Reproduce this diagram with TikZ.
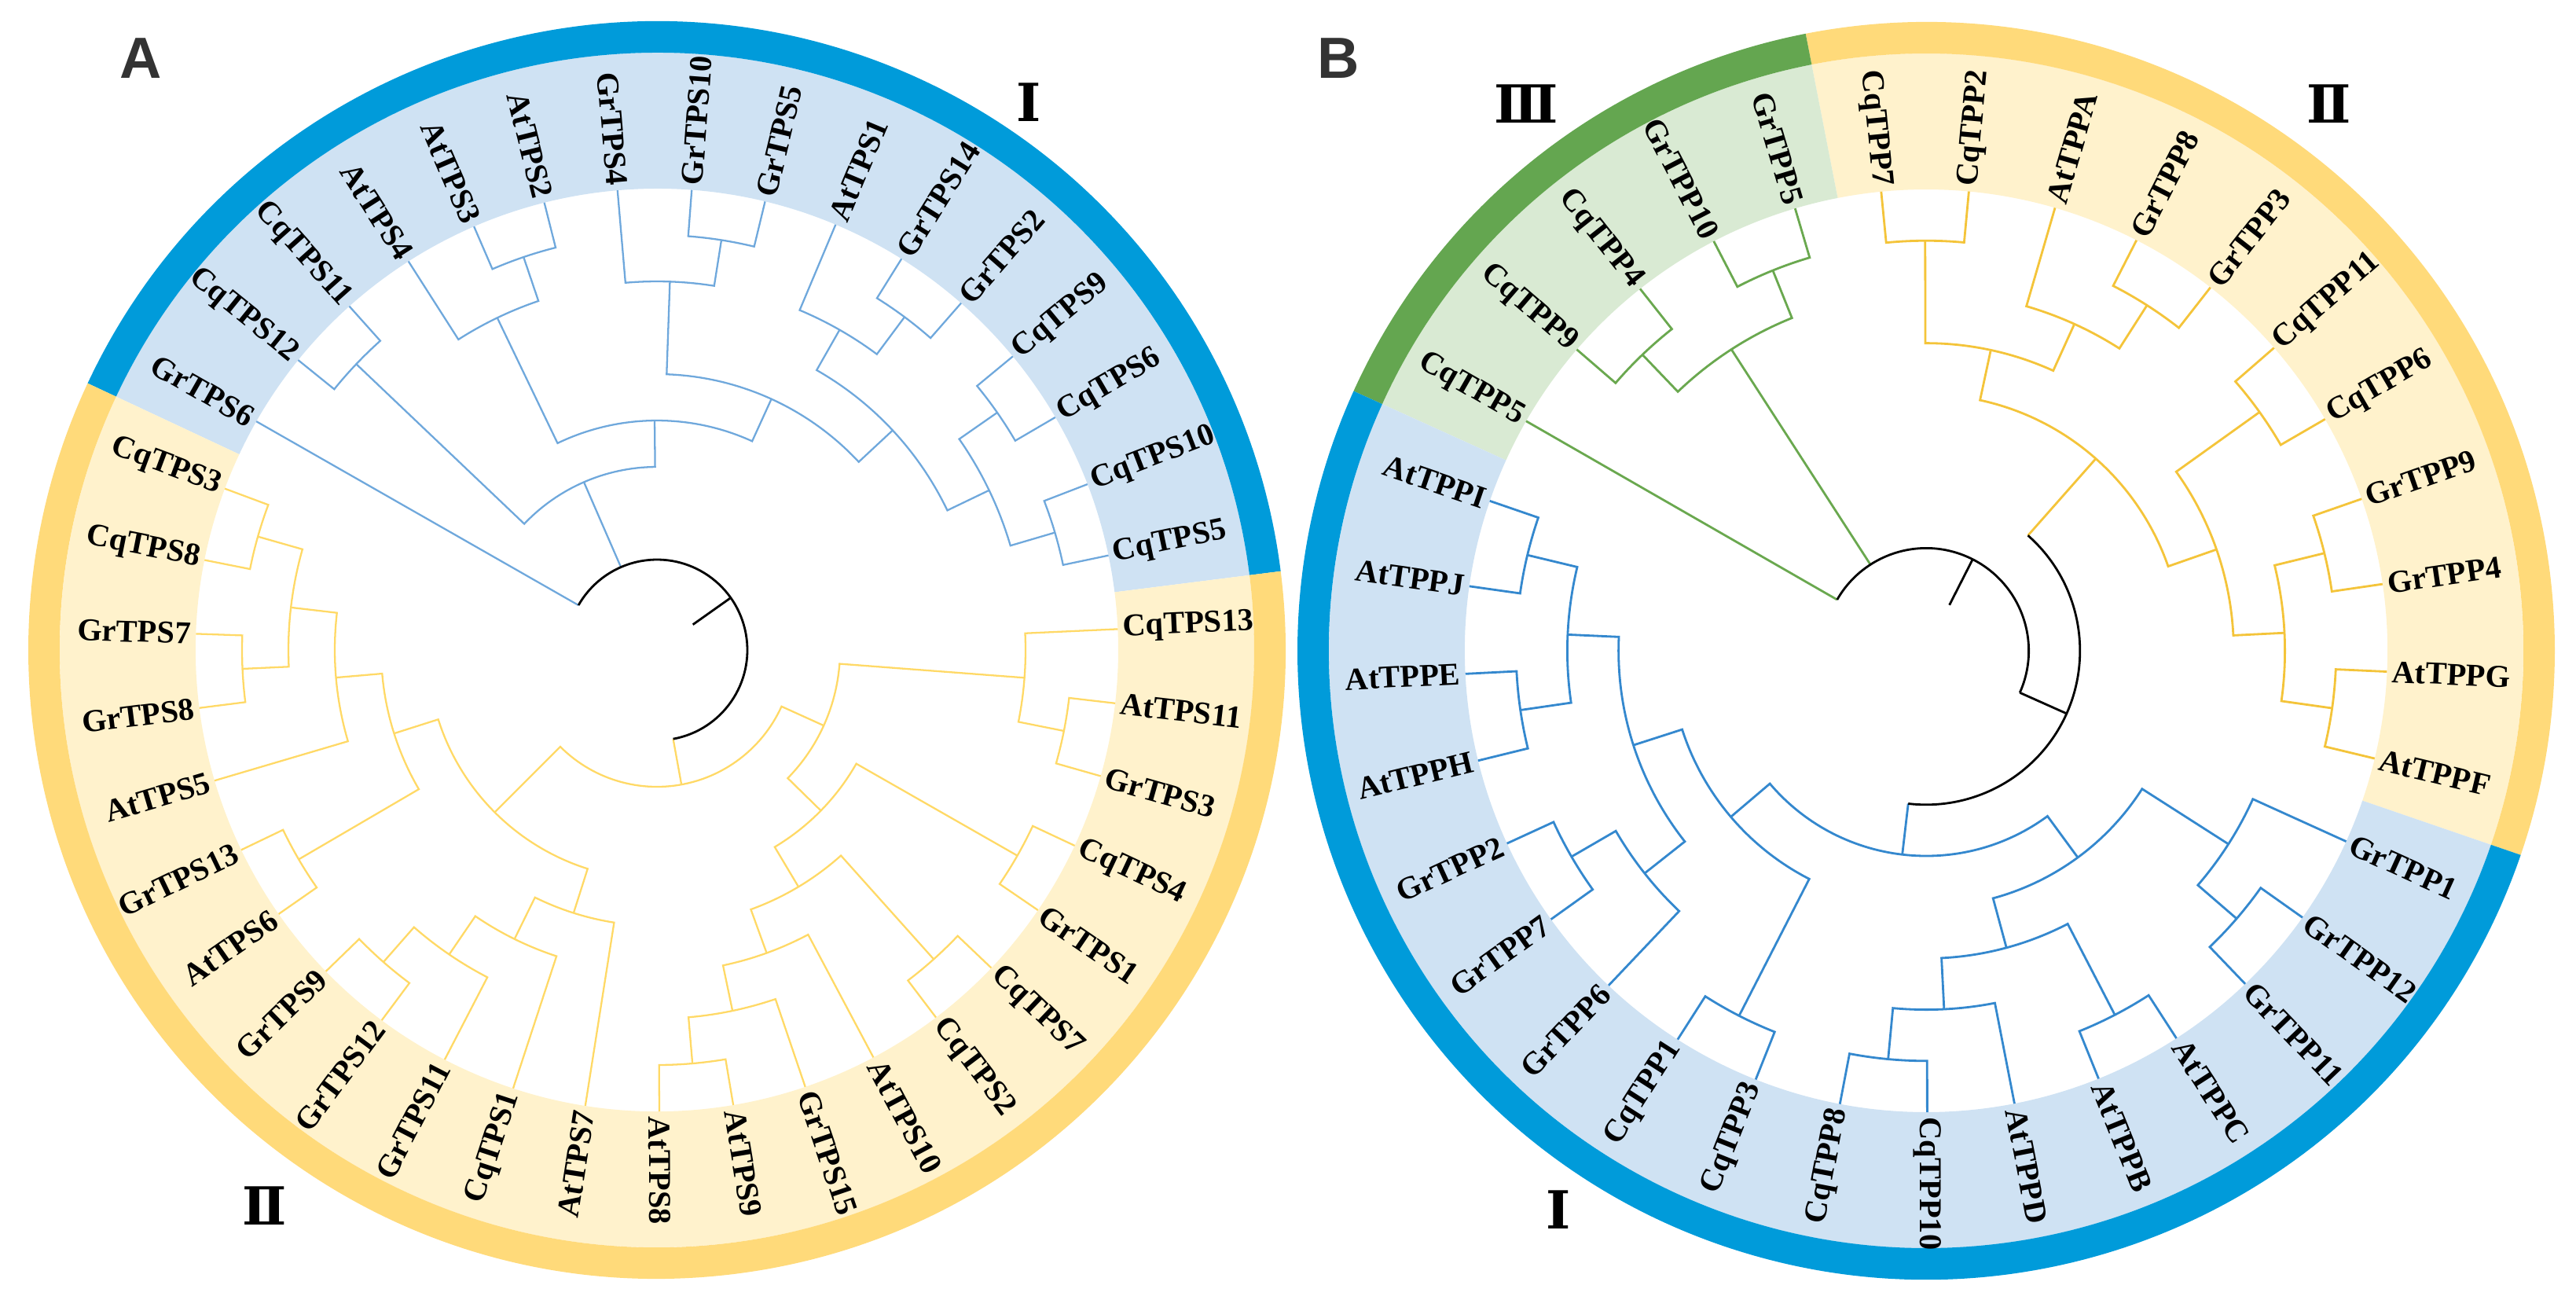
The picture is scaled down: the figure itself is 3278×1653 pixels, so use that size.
\documentclass[tikz,border=0pt]{standalone}
\usepackage{fontspec}
\setmainfont{Liberation Serif}
\newfontfamily\numfont{DejaVu Serif}
\newfontfamily\panelfont{Liberation Sans}
\definecolor{ringblue}{RGB}{0,155,218}
\definecolor{bandblue}{RGB}{207,226,243}
\definecolor{ringyellow}{RGB}{255,218,122}
\definecolor{bandyellow}{RGB}{255,242,204}
\definecolor{ringgreen}{RGB}{100,166,80}
\definecolor{bandgreen}{RGB}{217,234,211}
\definecolor{lineblueA}{RGB}{111,168,220}
\definecolor{lineyellowA}{RGB}{255,217,102}
\definecolor{lineblueB}{RGB}{52,136,206}
\definecolor{lineyellowB}{RGB}{244,196,58}
\definecolor{linegreen}{RGB}{106,168,79}
\definecolor{panelgray}{RGB}{51,51,51}
\newcommand\clade[6]{%
  \pgfmathsetmacro\cladeR{\leafr-#6*\cladestep}%
  \pgfmathsetmacro\cladeM{(#4+#5)/2}%
  \draw (#2) -- (#4:\cladeR) arc[start angle=#4, end angle=#5, radius=\cladeR] -- (#3);
  \coordinate (#1) at (\cladeM:\cladeR);}
\begin{document}
\begin{tikzpicture}[x=0.01cm,y=0.01cm,
  gene/.style={inner sep=0pt, font=\fontsize{11.5}{13}\selectfont\bfseries},
  clade num/.style={font=\numfont\bfseries\fontsize{19}{20}\selectfont},
  panel/.style={font=\panelfont\bfseries\fontsize{21}{24}\selectfont, text=panelgray}]
\useasboundingbox (0,0) rectangle (3278,-1653);
\node[panel] (pA) at (179,-74) {A};
\node[panel] (pB) at (1703,-74) {B};
\node[clade num] (nAI) at (1309,-130) {Ⅰ};
\node[clade num] (nAII) at (337,-1534) {Ⅱ};
\node[clade num] (nBIII) at (1942,-132) {Ⅲ};
\node[clade num] (nBII) at (2964,-132) {Ⅱ};
\node[clade num] (nBI) at (1983,-1539) {Ⅰ};
\begin{scope}[shift={(836,-827)}]
\def\leafr{587}\def\cladestep{59}
\foreach \p/\q/\c/\d in {7.2/154.9/bandblue/ringblue,154.9/367.2/bandyellow/ringyellow}{
  \fill[\c] (\p:587) arc[start angle=\p, end angle=\q, radius=587] -- (\q:760) arc[start angle=\q, end angle=\p, radius=760] -- cycle;
  \fill[\d] (\p:760) arc[start angle=\p, end angle=\q, radius=760] -- (\q:800) arc[start angle=\q, end angle=\p, radius=800] -- cycle;
}
\foreach \idx/\gene in {0/CqTPS13,1/CqTPS5,2/CqTPS10,3/CqTPS6,4/CqTPS9,5/GrTPS2,6/GrTPS14,7/AtTPS1,8/GrTPS5,9/GrTPS10,29/AtTPS8,30/AtTPS9,31/GrTPS15,32/AtTPS10,33/CqTPS2,34/CqTPS7,35/GrTPS1,36/CqTPS4,37/GrTPS3,38/AtTPS11}{
  \pgfmathsetmacro\ang{2.6+\idx*360/39}
  \coordinate (\gene) at (\ang:587);
  \node[gene, anchor=west, rotate=\ang] (l\gene) at (\ang:593) {\gene};
}
\foreach \idx/\gene in {10/GrTPS4,11/AtTPS2,12/AtTPS3,13/AtTPS4,14/CqTPS11,15/CqTPS12,16/GrTPS6,17/CqTPS3,18/CqTPS8,19/GrTPS7,20/GrTPS8,21/AtTPS5,22/GrTPS13,23/AtTPS6,24/GrTPS9,25/GrTPS12,26/GrTPS11,27/CqTPS1,28/AtTPS7}{
  \pgfmathsetmacro\ang{2.6+\idx*360/39}
  \pgfmathsetmacro\rot{\ang-180}
  \coordinate (\gene) at (\ang:587);
  \node[gene, anchor=east, rotate=\rot] (l\gene) at (\ang:593) {\gene};
}
\begin{scope}[color=lineblueA, line width=0.65pt]
\clade{tA1}{CqTPS5}{CqTPS10}{11.83}{21.06}{1}
\clade{tA2}{CqTPS6}{CqTPS9}{30.29}{39.52}{1}
\clade{tA3}{tA1}{tA2}{16.45}{34.91}{2}
\clade{tA4}{GrTPS2}{GrTPS14}{48.75}{57.98}{1}
\clade{tA5}{tA4}{AtTPS1}{53.37}{67.22}{2}
\clade{tA6}{tA3}{tA5}{25.68}{60.29}{3}
\clade{tA7}{GrTPS5}{GrTPS10}{76.45}{85.68}{1}
\clade{tA8}{tA7}{GrTPS4}{81.07}{94.91}{2}
\clade{tA9}{tA6}{tA8}{42.99}{87.99}{4}
\clade{tA10}{AtTPS2}{AtTPS3}{104.14}{113.37}{1}
\clade{tA11}{tA10}{AtTPS4}{108.76}{122.60}{2}
\clade{tA12}{tA9}{tA11}{65.49}{115.68}{5}
\clade{tA13}{CqTPS11}{CqTPS12}{131.83}{141.06}{1}
\clade{tA14}{tA12}{tA13}{90.59}{136.45}{6}
\draw (GrTPS6) -- (150.29:115);
\draw (tA14) -- (113.52:115);
\end{scope}
\begin{scope}[color=lineyellowA, line width=0.65pt]
\clade{tA15}{CqTPS3}{CqTPS8}{159.52}{168.75}{1}
\clade{tA16}{GrTPS7}{GrTPS8}{177.98}{187.22}{1}
\clade{tA17}{tA15}{tA16}{164.14}{182.60}{2}
\clade{tA18}{tA17}{AtTPS5}{173.37}{196.45}{3}
\clade{tA19}{GrTPS13}{AtTPS6}{205.68}{214.91}{1}
\clade{tA20}{tA18}{tA19}{184.91}{210.30}{4}
\clade{tA21}{GrTPS9}{GrTPS12}{224.14}{233.37}{1}
\clade{tA22}{tA21}{GrTPS11}{228.76}{242.60}{2}
\clade{tA23}{tA22}{CqTPS1}{235.68}{251.83}{3}
\clade{tA24}{tA23}{AtTPS7}{243.75}{261.06}{4}
\clade{tA25}{tA20}{tA24}{197.60}{252.41}{5}
\clade{tA26}{AtTPS8}{AtTPS9}{270.29}{279.52}{1}
\clade{tA27}{tA26}{GrTPS15}{274.91}{288.75}{2}
\clade{tA28}{tA27}{AtTPS10}{281.83}{297.98}{3}
\clade{tA29}{CqTPS2}{CqTPS7}{307.22}{316.45}{1}
\clade{tA30}{tA28}{tA29}{289.90}{311.83}{4}
\clade{tA31}{GrTPS1}{CqTPS4}{325.68}{334.91}{1}
\clade{tA32}{tA30}{tA31}{300.87}{330.30}{5}
\clade{tA33}{GrTPS3}{AtTPS11}{344.14}{353.37}{1}
\clade{tA34}{tA33}{CqTPS13}{348.76}{362.60}{2}
\clade{tA35}{tA32}{tA34}{315.58}{355.68}{6}
\clade{tA36}{tA25}{tA35}{225.00}{335.63}{7}
\draw (tA36) -- (280.32:115);
\end{scope}
\coordinate (tA37) at (35.3:115);
\coordinate (tA0) at (35.3:56);
\draw[line width=0.8pt] (-79.68:115) arc[start angle=-79.68, end angle=150.29, radius=115];
\draw[line width=0.8pt] (tA37) -- (tA0);
\end{scope}
\begin{scope}[shift={(2451,-828)}]
\def\leafr{587}\def\cladestep{65.2}
\foreach \p/\q/\c/\d in {-18.95/101.05/bandyellow/ringyellow,101.05/155.6/bandgreen/ringgreen,155.6/341.05/bandblue/ringblue}{
  \fill[\c] (\p:587) arc[start angle=\p, end angle=\q, radius=587] -- (\q:760) arc[start angle=\q, end angle=\p, radius=760] -- cycle;
  \fill[\d] (\p:760) arc[start angle=\p, end angle=\q, radius=760] -- (\q:800) arc[start angle=\q, end angle=\p, radius=800] -- cycle;
}
\foreach \idx/\gene in {0/AtTPPF,1/AtTPPG,2/GrTPP4,3/GrTPP9,4/CqTPP6,5/CqTPP11,6/GrTPP3,7/GrTPP8,8/AtTPPA,9/CqTPP2,26/CqTPP10,27/AtTPPD,28/AtTPPB,29/AtTPPC,30/GrTPP11,31/GrTPP12,32/GrTPP1}{
  \pgfmathsetmacro\ang{-13.5+\idx*360/33}
  \coordinate (\gene) at (\ang:587);
  \node[gene, anchor=west, rotate=\ang] (l\gene) at (\ang:593) {\gene};
}
\foreach \idx/\gene in {10/CqTPP7,11/GrTPP5,12/GrTPP10,13/CqTPP4,14/CqTPP9,15/CqTPP5,16/AtTPPI,17/AtTPPJ,18/AtTPPE,19/AtTPPH,20/GrTPP2,21/GrTPP7,22/GrTPP6,23/CqTPP1,24/CqTPP3,25/CqTPP8}{
  \pgfmathsetmacro\ang{-13.5+\idx*360/33}
  \pgfmathsetmacro\rot{\ang-180}
  \coordinate (\gene) at (\ang:587);
  \node[gene, anchor=east, rotate=\rot] (l\gene) at (\ang:593) {\gene};
}
\begin{scope}[color=lineyellowB, line width=0.8pt]
\clade{tB1}{AtTPPF}{AtTPPG}{-13.50}{-2.59}{1}
\clade{tB2}{GrTPP4}{GrTPP9}{8.32}{19.23}{1}
\clade{tB3}{tB1}{tB2}{-8.05}{13.78}{2}
\clade{tB4}{CqTPP6}{CqTPP11}{30.14}{41.05}{1}
\clade{tB5}{tB3}{tB4}{2.87}{35.60}{3}
\clade{tB6}{GrTPP3}{GrTPP8}{51.95}{62.86}{1}
\clade{tB7}{tB6}{AtTPPA}{57.41}{73.77}{2}
\clade{tB8}{CqTPP2}{CqTPP7}{84.68}{95.59}{1}
\clade{tB9}{tB7}{tB8}{65.59}{90.14}{3}
\clade{tB10}{tB5}{tB9}{19.23}{77.86}{4}
\draw (tB10) -- (48.55:195.8);
\end{scope}
\begin{scope}[color=linegreen, line width=0.8pt]
\clade{tB11}{GrTPP5}{GrTPP10}{106.50}{117.41}{1}
\clade{tB12}{CqTPP4}{CqTPP9}{128.32}{139.23}{1}
\clade{tB13}{tB11}{tB12}{111.96}{133.78}{2}
\draw (tB13) -- (122.87:130.6);
\draw (CqTPP5) -- (150.14:130.6);
\end{scope}
\begin{scope}[color=lineblueB, line width=0.8pt]
\clade{tB14}{AtTPPI}{AtTPPJ}{161.05}{171.95}{1}
\clade{tB15}{AtTPPE}{AtTPPH}{182.86}{193.77}{1}
\clade{tB16}{tB14}{tB15}{166.50}{188.32}{2}
\clade{tB17}{GrTPP2}{GrTPP7}{204.68}{215.59}{1}
\clade{tB18}{tB17}{GrTPP6}{210.14}{226.50}{2}
\clade{tB19}{tB16}{tB18}{177.41}{218.32}{3}
\clade{tB20}{CqTPP1}{CqTPP3}{237.41}{248.32}{1}
\clade{tB21}{tB19}{tB20}{197.87}{242.87}{4}
\clade{tB22}{CqTPP8}{CqTPP10}{259.23}{270.14}{1}
\clade{tB23}{tB22}{AtTPPD}{264.69}{281.05}{2}
\clade{tB24}{AtTPPB}{AtTPPC}{291.95}{302.86}{1}
\clade{tB25}{tB23}{tB24}{272.87}{297.41}{3}
\clade{tB26}{GrTPP11}{GrTPP12}{313.77}{324.68}{1}
\clade{tB27}{tB26}{GrTPP1}{319.23}{335.59}{2}
\clade{tB28}{tB25}{tB27}{285.14}{327.41}{4}
\clade{tB29}{tB21}{tB28}{220.37}{306.28}{5}
\draw (tB29) -- (263.32:195.8);
\end{scope}
\coordinate (tB30) at (-24.07:195.8);
\coordinate (tB31) at (63.03:130.6);
\coordinate (tB0) at (63.03:65.4);
\draw[line width=0.8pt] (48.55:195.8) arc[start angle=48.55, end angle=-96.68, radius=195.8];
\draw[line width=0.8pt] (tB30) -- (-24.07:130.6);
\draw[line width=0.8pt] (-24.07:130.6) arc[start angle=-24.07, end angle=150.14, radius=130.6];
\draw[line width=0.8pt] (tB31) -- (tB0);
\end{scope}
\end{tikzpicture}
\end{document}
